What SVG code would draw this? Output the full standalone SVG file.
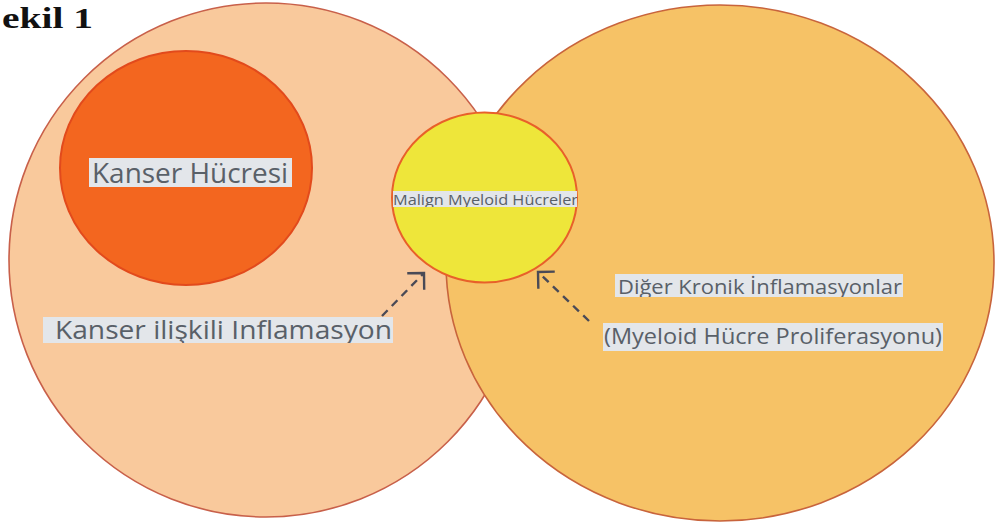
<svg xmlns="http://www.w3.org/2000/svg" width="998" height="525" viewBox="0 0 998 525">
  <style>
    .lbl { font-family: "Open Sans", "Noto Sans", "Liberation Sans", sans-serif; fill: #596068; }
    .box { fill: #e3e6ea; }
    .conn { fill: none; stroke: #4a4a56; stroke-width: 2.4; stroke-dasharray: 8 6; }
  </style>
  <defs>
    <marker id="head" markerUnits="userSpaceOnUse" markerWidth="16" markerHeight="26" viewBox="0 0 16 26" refX="13" refY="13" orient="auto">
      <path d="M2,2 L13,13 L2,24" fill="none" stroke="#4a4a56" stroke-width="2.4" stroke-linecap="square"/>
    </marker>
    <clipPath id="c1"><rect x="89" y="158" width="203" height="29"/></clipPath>
    <clipPath id="c2"><rect x="43" y="317" width="350" height="26"/></clipPath>
    <clipPath id="c3"><rect x="393" y="191" width="184" height="16"/></clipPath>
    <clipPath id="c4"><rect x="615" y="274" width="288" height="23"/></clipPath>
    <clipPath id="c5"><rect x="603" y="323" width="340" height="28"/></clipPath>
  </defs>
  <rect width="998" height="525" fill="#ffffff"/>
  <text x="2" y="28" font-family="'Liberation Serif', 'DejaVu Serif', serif" font-weight="bold" font-size="29" fill="#111111" textLength="91" lengthAdjust="spacingAndGlyphs">ekil 1</text>

  <g id="kanser-iliskili">
    <ellipse cx="266" cy="260" rx="257" ry="257" fill="#f9c99c" stroke="#c8604a" stroke-width="1.6"/>
    <g clip-path="url(#c2)">
      <rect class="box" x="43" y="317" width="350" height="26"/>
      <text class="lbl" x="55" y="339" font-size="25" textLength="337" lengthAdjust="spacingAndGlyphs">Kanser ilişkili Inflamasyon</text>
    </g>
  </g>

  <g id="diger-kronik">
    <ellipse cx="720" cy="263" rx="274" ry="258" fill="#f6c266" stroke="#c8643c" stroke-width="1.6"/>
    <g clip-path="url(#c4)">
      <rect class="box" x="615" y="274" width="288" height="23"/>
      <text class="lbl" x="618" y="294" font-size="19.5" textLength="284" lengthAdjust="spacingAndGlyphs">Diğer Kronik İnflamasyonlar</text>
    </g>
    <g clip-path="url(#c5)">
      <rect class="box" x="603" y="323" width="340" height="28"/>
      <text class="lbl" x="604" y="344" font-size="22" textLength="338" lengthAdjust="spacingAndGlyphs">(Myeloid Hücre Proliferasyonu)</text>
    </g>
  </g>

  <g id="kanser-hucresi">
    <ellipse cx="186" cy="168" rx="126" ry="117" fill="#f3661f" stroke="#e24a1c" stroke-width="2"/>
    <g clip-path="url(#c1)">
      <rect class="box" x="89" y="158" width="203" height="29"/>
      <text class="lbl" x="92" y="183" font-size="28" textLength="196" lengthAdjust="spacingAndGlyphs">Kanser Hücresi</text>
    </g>
  </g>

  <g id="malign-myeloid">
    <ellipse cx="484.5" cy="197.5" rx="92.5" ry="85" fill="#eee63a" stroke="#e8602a" stroke-width="2"/>
    <g clip-path="url(#c3)">
      <rect class="box" x="393" y="191" width="184" height="16"/>
      <text class="lbl" x="393" y="204.5" font-size="14" textLength="185" lengthAdjust="spacingAndGlyphs">Malign Myeloid Hücreler</text>
    </g>
  </g>

  <g id="connectors">
    <line class="conn" x1="382" y1="316" x2="424" y2="273" marker-end="url(#head)"/>
    <line class="conn" x1="589" y1="321" x2="538" y2="272" marker-end="url(#head)"/>
  </g>
</svg>
